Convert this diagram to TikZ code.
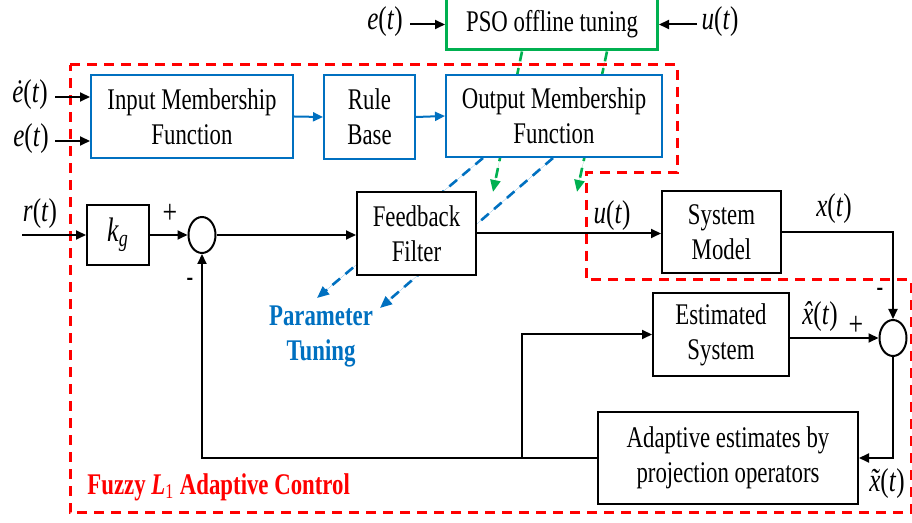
\documentclass[tikz,border=0pt]{standalone}
\usepackage{fontspec}
\setmainfont{Liberation Serif}[FakeStretch=0.76]
\usepackage{amsmath}
\usetikzlibrary{arrows.meta,shapes.geometric,backgrounds}
\definecolor{psogreen}{RGB}{0,176,80}
\definecolor{fuzzblue}{RGB}{0,112,192}
\newcommand\tfun[1]{\textit{#1}(\textit{t})}
\newcommand\xacc[1]{\textit{x}\llap{\textit{\char"#1}\hspace{0.06em}}}

\begin{document}
\begin{tikzpicture}[x=0.5pt,y=-0.5pt,
  every node/.style={font=\fontsize{15}{17.5}\selectfont},
  blk/.style={draw,line width=1pt,fill=white,align=center,inner sep=0pt},
  fblk/.style={blk,draw=fuzzblue},
  sumnode/.style={draw,ellipse,line width=1pt,fill=white,inner sep=0pt,
                  minimum width=13.5pt,minimum height=18pt},
  lbl/.style={inner sep=1pt,font=\fontsize{16.5}{18}\selectfont},
  sgn/.style={inner sep=1pt,font=\fontsize{17}{17}\selectfont},
  sig/.style={line width=1pt,-{Triangle[length=5pt,width=4.5pt]}},
  tune/.style={line width=1.3pt,dash pattern=on 5pt off 3.5pt,
               -{Triangle[length=6pt,width=5pt]}},
  frame/.style={draw=red,line width=1.5pt,dash pattern=on 5pt off 3.5pt}]
  \useasboundingbox (0,0) rectangle (912,523);
  \node[blk,draw=psogreen,line width=1.5pt,minimum width=105.5pt,minimum height=25.5pt] (pso) at (552,24.5) {PSO offline tuning};
  \node[fblk,minimum width=101pt,minimum height=41.5pt] (inmf)  at (192,116.5) {Input Membership\\Function};
  \node[fblk,minimum width=45.5pt,minimum height=42pt]  (rule)  at (369.5,117) {Rule\\Base};
  \node[fblk,minimum width=108pt,minimum height=41pt]   (outmf) at (554,116)   {Output Membership\\Function};
  \node[blk,minimum width=31pt,minimum height=30pt,font=\fontsize{17}{18}\selectfont] (kg) at (118,235) {\textit{k}\textsubscript{\textit{g}}};
  \node[sumnode] (s1) at (202,235) {};
  \node[blk,minimum width=59.5pt,minimum height=41.5pt] (fb)    at (416.5,233.5) {Feedback\\Filter};
  \node[blk,minimum width=59.5pt,minimum height=41pt]   (sys)   at (721.5,232) {System\\Model};
  \node[blk,minimum width=68pt,minimum height=41.5pt]   (est)   at (721,334.5) {Estimated\\System};
  \node[sumnode] (s2) at (893,338) {};
  \node[blk,minimum width=130pt,minimum height=46pt]    (adp)   at (728,458)   {Adaptive estimates by\\projection operators};
  \node[text=fuzzblue,font=\fontsize{15}{17.5}\selectfont\bfseries,align=center] (ptun) at (321,336) {Parameter\\Tuning};
  \node[text=red,font=\fontsize{15}{17.5}\selectfont\bfseries,anchor=west,inner sep=0pt] (flab) at (87,487) {Fuzzy \textit{L}\textsubscript{\mdseries 1} Adaptive Control};

  \coordinate (ein) at (410,24.5);  \coordinate (uin) at (697,24.5);
  \coordinate (edin) at (55,97);    \coordinate (ein2) at (55,141);
  \coordinate (rin) at (22,235);    \coordinate (jn) at (522,458);
  \node[lbl] (elab)  at (385,22)  {\tfun{e}};   \node[lbl] (ulab)  at (720,22)  {\tfun{u}};
  \node[lbl] (edlab) at (30,95)   {\tfun{\.{e}}};  \node[lbl] (e2lab) at (31,139)  {\tfun{e}};
  \node[lbl] (rlab)  at (40,214)  {\tfun{r}};   \node[lbl] (ulab2) at (612,216) {\tfun{u}};
  \node[lbl] (xlab)  at (834,209) {\tfun{x}};   \node[lbl] (xhlab) at (820,317) {\tfun{\xacc{02C6}}};
  \node[lbl] (xtlab) at (887,484) {\tfun{\xacc{02DC}}};
  \node[sgn] (p1) at (170,214) {+};
  \node[sgn] (p2) at (856,326) {+};
  \node[sgn,font=\fontsize{13}{13}\selectfont\bfseries] (m1) at (190,282) {-};
  \node[sgn,font=\fontsize{13}{13}\selectfont\bfseries] (m2) at (880,292) {-};

  \begin{scope}[on background layer]
    \draw[frame] (70,65) -- (677,65) -- (677,173) -- (586,173) -- (586,280) -- (911,280) -- (911,513) -- (70,513) -- cycle;
    \draw[tune,draw=psogreen,fill=psogreen] (pso.south -| 522,0) -- (493,192);
    \draw[tune,draw=psogreen,fill=psogreen] (pso.south -| 607,0) -- (577,192);
    \draw[tune,draw=fuzzblue,fill=fuzzblue] (outmf.south -| 483,0) -- (317,298);
    \draw[tune,draw=fuzzblue,fill=fuzzblue] (outmf.south -| 553,0) -- (380,308);
  \end{scope}

  \draw[sig] (ein) -- (pso.west);   \draw[sig] (uin) -- (pso.east);
  \draw[sig] (edin) -- (edin -| inmf.west);   \draw[sig] (ein2) -- (ein2 -| inmf.west);
  \draw[sig,draw=fuzzblue,fill=fuzzblue] (inmf.east) -- (rule.west);
  \draw[sig,draw=fuzzblue,fill=fuzzblue] (rule.east) -- (outmf.west);
  \draw[sig] (rin) -- (kg.west);    \draw[sig] (kg.east) -- (s1.west);
  \draw[sig] (s1.east) -- (s1.east -| fb.west);
  \draw[sig] (fb.east) -- (fb.east -| sys.west);
  \draw[sig] (sys.east) -| (s2.north);
  \draw[sig] (est.east |- s2.west) -- (s2.west);
  \draw[sig] (s2.south) |- (adp.east);
  \draw[sig] (adp.west) -| (s1.south);
  \draw[sig] (jn) |- (est.west);
\end{tikzpicture}
\end{document}
